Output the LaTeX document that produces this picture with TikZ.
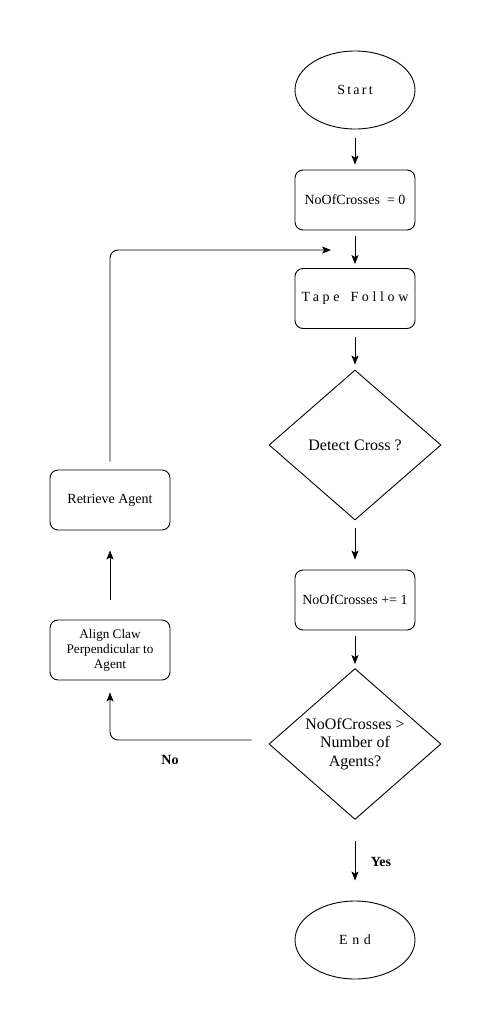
\documentclass[tikz,border=0pt]{standalone}
\usepackage{fontspec}
\setmainfont{Liberation Serif}
\usetikzlibrary{arrows.meta,shapes.geometric}
\begin{document}
\begin{tikzpicture}[x=1pt,y=-1pt, line width=0.9pt,
  every node/.style={font=\fontsize{14}{16.5}\selectfont},
  term/.style={draw, ellipse, minimum width=120pt, minimum height=78pt, inner sep=0pt},
  procbox/.style={draw, rounded corners=8pt, minimum width=120pt, minimum height=60pt, inner sep=2pt, align=center},
  decision/.style={draw, diamond, minimum width=172pt, minimum height=150pt, inner sep=0pt, align=center, font=\fontsize{16}{18.5}\selectfont},
  flow/.style={-{Stealth[length=9pt,width=7pt,inset=2pt]}},
  lbl/.style={font=\fontsize{14}{16.5}\selectfont\bfseries}
]
\fill[white] (0,0) rectangle (493,1031);
\useasboundingbox (0,0) rectangle (493,1031);

\node[term] (start) at (355,90) {\addfontfeature{LetterSpace=16}Start};
\node[procbox] (init) at (355,200) {NoOfCrosses\ \ = 0};
\node[procbox] (tape) at (355,298.5) {\addfontfeature{LetterSpace=26}Tape\hspace{11pt}Follow};
\node[decision] (detect) at (355,445) {Detect Cross ?};
\node[procbox] (incr) at (355,600) {NoOfCrosses += 1};
\node[decision] (check) at (355,744) {NoOfCrosses >\\ Number of\\ Agents?};
\node[term] (end) at (355,940) {\addfontfeature{LetterSpace=32}End};
\node[procbox, font=\fontsize{13.2}{15}\selectfont] (align) at (110,650) {Align Claw\\ Perpendicular to\\ Agent};
\node[procbox] (retrieve) at (110,500) {Retrieve Agent};
\coordinate (loopend) at (331,250);

\node[lbl] (no) at (170,760) {No};
\node[lbl] (yes) at (381,862) {Yes};

\draw[flow, shorten <=9pt, shorten >=5pt] (start) -- (init);
\draw[flow, shorten <=6pt, shorten >=4pt] (init) -- (tape);
\draw[flow, shorten <=8pt, shorten >=5pt] (tape) -- (detect);
\draw[flow, shorten <=8pt, shorten >=10pt] (detect) -- (incr);
\draw[flow, shorten <=6pt, shorten >=4pt] (incr) -- (check);
\draw[flow, shorten <=21pt, shorten >=20pt] (check) -- (end);
\draw[flow, rounded corners=8pt] ([xshift=-17pt,yshift=4pt]check.west) -| ([yshift=-12pt]align.south);
\draw[flow, shorten <=20pt, shorten >=20pt] (align) -- (retrieve);
\draw[flow, rounded corners=8pt, shorten <=8pt] (retrieve.north) |- (loopend);
\end{tikzpicture}
\end{document}
